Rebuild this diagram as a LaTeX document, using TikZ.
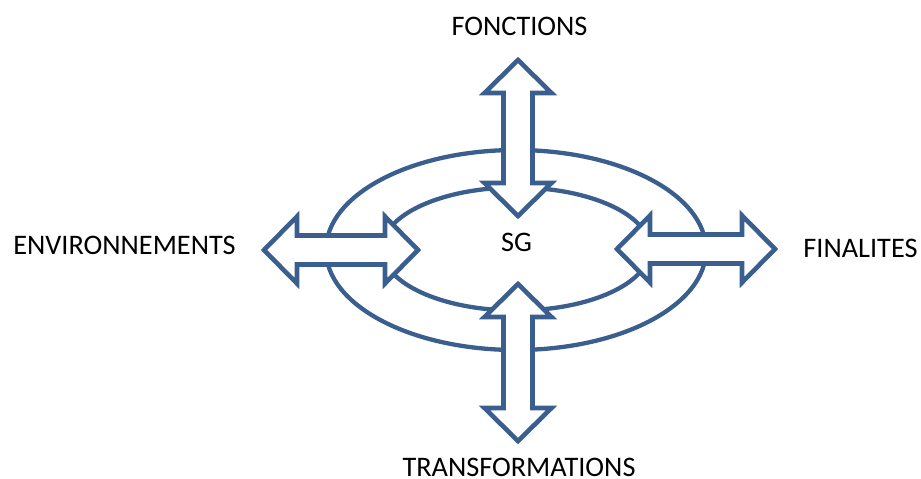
\documentclass[tikz,border=0pt]{standalone}
\usepackage{fontspec}
\setmainfont{Carlito}
\definecolor{arrowblue}{HTML}{3A5F8F}
\tikzset{
  ring/.style={draw=arrowblue, line width=4.3pt},
  blockarrow/.style={draw=arrowblue, fill=white, line width=4.6pt, line join=miter, miter limit=10},
  label/.style={font=\fontsize{28.3}{32}\selectfont, anchor=base, inner sep=0pt, text=black}
}
\newcommand\harr[3]{%
  \draw[blockarrow] (#1,#3) -- (#1+33,#3-33.5) -- (#1+33,#3-14.5) -- (#2-33,#3-14.5) -- (#2-33,#3-33.5) -- (#2,#3) -- (#2-33,#3+33.5) -- (#2-33,#3+14.5) -- (#1+33,#3+14.5) -- (#1+33,#3+33.5) -- cycle;}
\newcommand\varr[3]{%
  \draw[blockarrow] (#3,#1) -- (#3+33.5,#1+33) -- (#3+14.5,#1+33) -- (#3+14.5,#2-33) -- (#3+33.5,#2-33) -- (#3,#2) -- (#3-33.5,#2-33) -- (#3-14.5,#2-33) -- (#3-14.5,#1+33) -- (#3-33.5,#1+33) -- cycle;}
\begin{document}
\begin{tikzpicture}[x=1pt,y=-1pt]
\useasboundingbox (0,0) rectangle (921,479);
% ring
\draw[ring] (516,250) ellipse [x radius=190, y radius=100];
\draw[ring] (516,249) ellipse [x radius=134, y radius=61.5];
% block arrows
\harr{264}{418}{250}
\harr{617}{775}{249}
\varr{60}{216}{518}
\varr{284}{441}{518}
% labels
\node[label] (fonctions) at (519.5,35) {FONCTIONS};
\node[label] (env) at (124.5,254) {ENVIRONNEMENTS};
\node[label] (fin) at (860.5,257) {FINALITES};
\node[label] (trans) at (519,476.5) {TRANSFORMATIONS};
\node[label] (sg) at (516.5,251) {SG};
\end{tikzpicture}
\end{document}
